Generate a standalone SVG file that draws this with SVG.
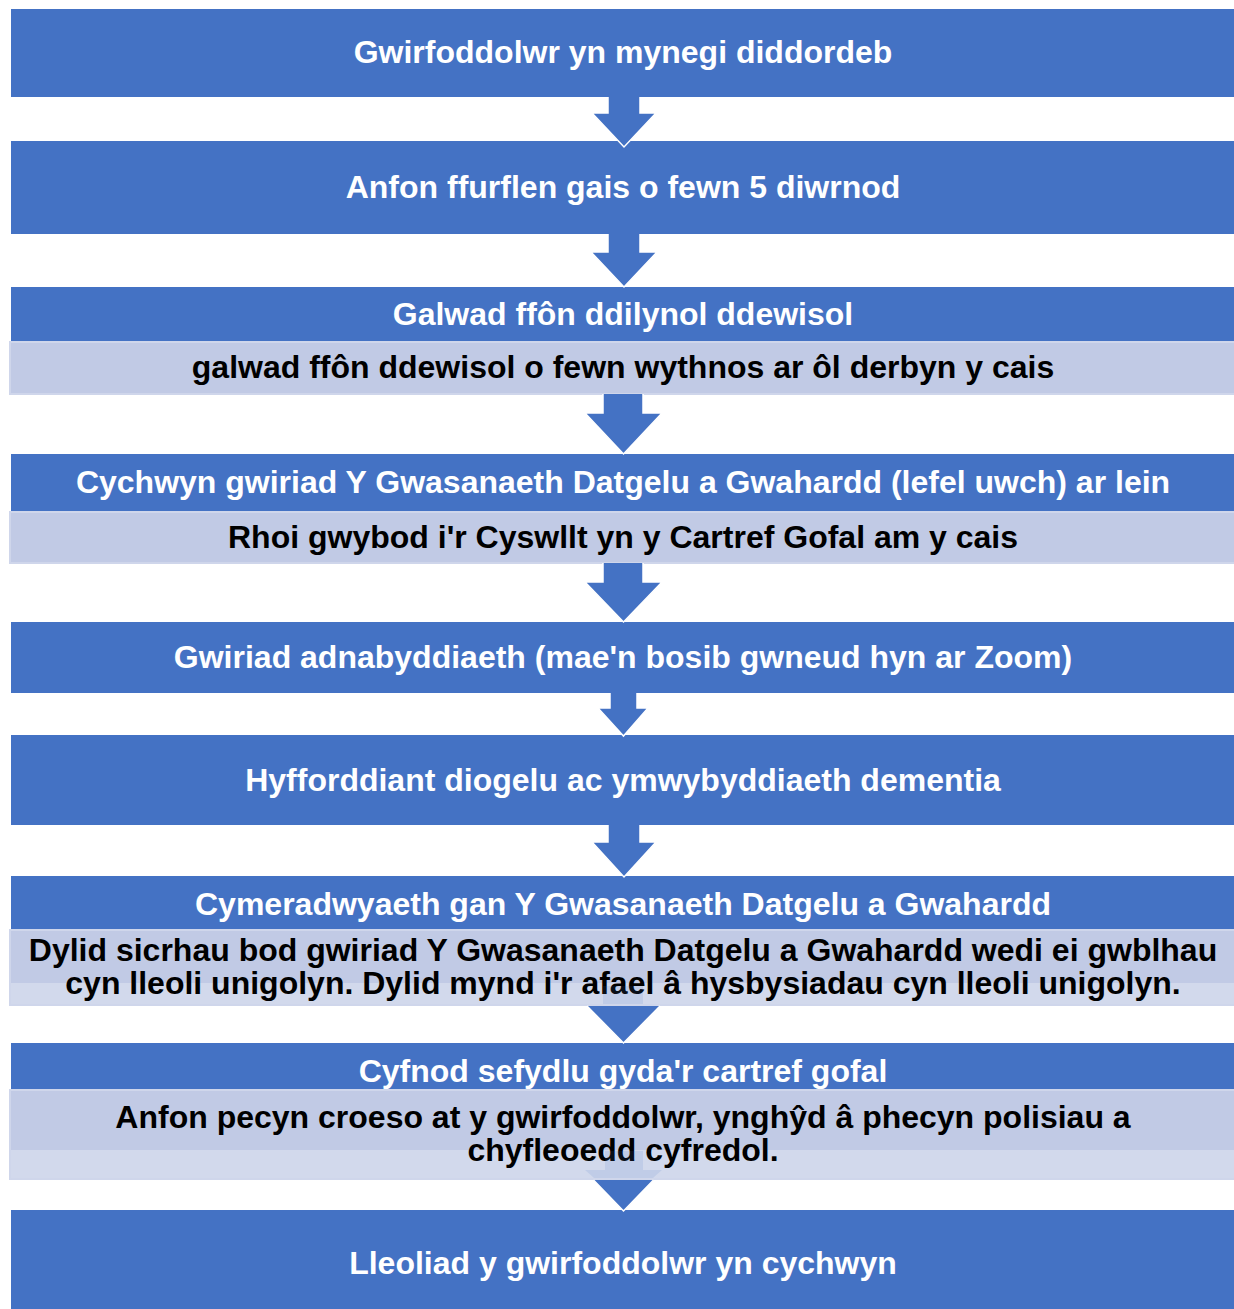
<svg xmlns="http://www.w3.org/2000/svg" width="1234" height="1309" viewBox="0 0 1234 1309">
<style>
.hdr{fill:#4472C4}
.sub{fill:#C1CAE5;stroke:#CFD6EB;stroke-width:2}
.subl{fill:#D2D9EC;stroke:#CFD6EB;stroke-width:2}
.subd{fill:#C1CAE5}
.t{font-family:"Liberation Sans",Arial,sans-serif;font-weight:bold;font-size:32px;text-anchor:middle}
.w{fill:#FFFFFF}
.k{fill:#000000}
.arr{fill:#4472C4;stroke:#FFFFFF;stroke-width:1.5;stroke-linejoin:miter}
.ghost{fill:#4472C4;fill-opacity:0.12}
</style>
<rect width="1234" height="1309" fill="#FFFFFF"/>
<g id="node1"><rect class="hdr" x="11" y="9" width="1223" height="88"/><text class="t w" x="623" y="63">Gwirfoddolwr yn mynegi diddordeb</text></g>
<g id="node2"><rect class="hdr" x="11" y="141" width="1223" height="93"/><text class="t w" x="623" y="198">Anfon ffurflen gais o fewn 5 diwrnod</text></g>
<g id="node3"><rect class="hdr" x="11" y="287" width="1223" height="54"/><text class="t w" x="623" y="325">Galwad ffôn ddilynol ddewisol</text>
<rect class="sub" x="10" y="342" width="1225" height="52"/><text class="t k" x="623" y="378">galwad ffôn ddewisol o fewn wythnos ar ôl derbyn y cais</text></g>
<g id="node4"><rect class="hdr" x="11" y="454" width="1223" height="57"/><text class="t w" x="623" y="493">Cychwyn gwiriad Y Gwasanaeth Datgelu a Gwahardd (lefel uwch) ar lein</text>
<rect class="sub" x="10" y="512" width="1225" height="51"/><text class="t k" x="623" y="548">Rhoi gwybod i'r Cyswllt yn y Cartref Gofal am y cais</text></g>
<g id="node5"><rect class="hdr" x="11" y="622" width="1223" height="71"/><text class="t w" x="623" y="668">Gwiriad adnabyddiaeth (mae'n bosib gwneud hyn ar Zoom)</text></g>
<g id="node6"><rect class="hdr" x="11" y="735" width="1223" height="90"/><text class="t w" x="623" y="791">Hyfforddiant diogelu ac ymwybyddiaeth dementia</text></g>
<g id="node7"><rect class="hdr" x="11" y="876" width="1223" height="53"/><text class="t w" x="623" y="915">Cymeradwyaeth gan Y Gwasanaeth Datgelu a Gwahardd</text>
<rect class="subl" x="10" y="930" width="1225" height="75"/><rect class="subd" x="11" y="931" width="1223" height="52"/>
<text class="t k" x="623" y="961">Dylid sicrhau bod gwiriad Y Gwasanaeth Datgelu a Gwahardd wedi ei gwblhau</text>
<text class="t k" x="623" y="994">cyn lleoli unigolyn. Dylid mynd i'r afael â hysbysiadau cyn lleoli unigolyn.</text></g>
<g id="node8"><rect class="hdr" x="11" y="1043" width="1223" height="46"/><text class="t w" x="623" y="1082">Cyfnod sefydlu gyda'r cartref gofal</text>
<rect class="subl" x="10" y="1090" width="1225" height="89"/><rect class="subd" x="11" y="1091" width="1223" height="59"/>
<text class="t k" x="623" y="1128">Anfon pecyn croeso at y gwirfoddolwr, ynghŷd â phecyn polisiau a</text>
<text class="t k" x="623" y="1161">chyfleoedd cyfredol.</text></g>
<g id="node9"><rect class="hdr" x="11" y="1210" width="1223" height="99"/><text class="t w" x="623" y="1274">Lleoliad y gwirfoddolwr yn cychwyn</text></g>
<g id="connectors">
<path class="arr" d="M608,97 L608,113 L592,113 L624,147 L656,113 L640,113 L640,97"/>
<path class="arr" d="M608,234 L608,252 L591,252 L624,287 L657,252 L640,252 L640,234"/>
<path class="arr" d="M603,394 L603,413 L585,413 L623.5,454 L662,413 L643,413 L643,394"/>
<path class="arr" d="M603,563 L603,582 L585,582 L623.5,622 L662,582 L643,582 L643,563"/>
<path class="arr" d="M610,693 L610,708 L598,708 L623.5,736 L648,708 L637,708 L637,693"/>
<path class="arr" d="M608,825 L608,842 L592,842 L624,877 L656,842 L640,842 L640,825"/>
<path class="ghost" d="M603,986 L643,986 L643,1004 L603,1004 Z"/>
<path class="arr" d="M587,1006 L623.5,1043 L660,1006"/>
<path class="ghost" d="M605,1151 L643,1151 L643,1170 L662,1170 L653,1178 L594,1178 L585,1170 L605,1170 Z"/>
<path class="arr" d="M593.5,1180 L623.5,1211 L653.5,1180"/>
</g>
</svg>
